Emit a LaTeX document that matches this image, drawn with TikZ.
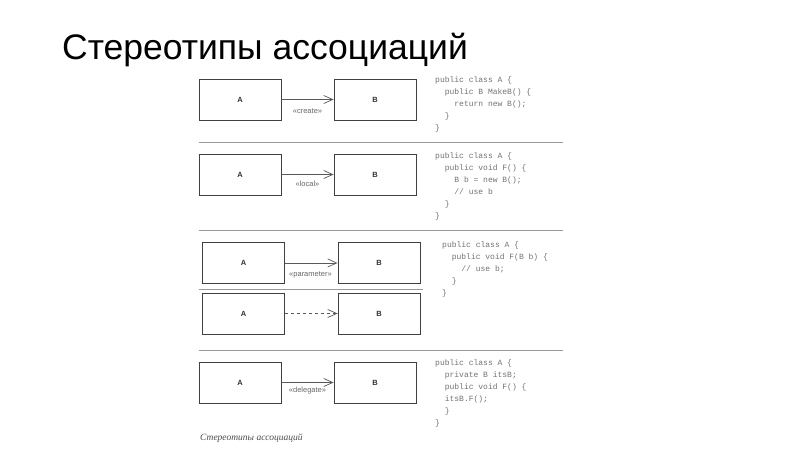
\documentclass[tikz,border=0pt]{standalone}
\usepackage{fontspec}
\setmainfont{Liberation Sans}
\setmonofont{Liberation Mono}
\newfontfamily\capserif{Liberation Serif}
\usetikzlibrary{arrows.meta,positioning}

\newcommand{\codeind}{\phantom{xx}}

\begin{document}
\begin{tikzpicture}[x=1pt, y=-1pt,
    clsbox/.style={rectangle, draw=black!75, line width=0.8pt, minimum width=82pt, minimum height=41pt, inner sep=0pt, font=\fontsize{7.5}{8}\selectfont\bfseries, text=black!80},
    arr/.style={-{Straight Barb[length=9pt,width=8pt]}, line width=0.7pt, draw=black!65},
    stereo/.style={font=\fontsize{7.5}{8}\selectfont, text=black!60, inner sep=0pt},
    code/.style={anchor=north west, align=left, inner sep=0pt, font=\ttfamily\fontsize{8}{12}\selectfont, text=black!55},
    sep/.style={draw=black!40, line width=0.8pt}
]
\useasboundingbox[fill=white] (0,0) rectangle (800,450);

% Title
\node[anchor=base west, inner sep=0pt, font=\fontsize{35.5}{38}\selectfont] (title) at (62,59) {Стереотипы ассоциаций};

% Row 1: create
\node[clsbox] (a1) at (240,99.5) {A};
\node[clsbox] (b1) at (375,99.5) {B};
\draw[arr] (a1) -- (b1);
\node[stereo] (s1) at (307.5,111.5) {«create»};
\node[code] (c1) at (435,76.5) {public class A \{\\
\codeind public B MakeB() \{\\
\codeind\codeind return new B();\\
\codeind \}\\
\}};

% Row 2: local
\node[clsbox] (a2) at (240,174.5) {A};
\node[clsbox] (b2) at (375,174.5) {B};
\draw[arr] (a2) -- (b2);
\node[stereo] (s2) at (307.5,184) {«local»};
\node[code] (c2) at (435,152.5) {public class A \{\\
\codeind public void F() \{\\
\codeind\codeind B b = new B();\\
\codeind\codeind // use b\\
\codeind \}\\
\}};

% Row 3: parameter
\node[clsbox] (a3) at (243.5,263) {A};
\node[clsbox] (b3) at (379,263) {B};
\draw[arr] (a3) -- (b3);
\node[stereo] (s3) at (310.5,275) {«parameter»};
\node[clsbox] (a4) at (243.5,313.5) {A};
\node[clsbox] (b4) at (379,313.5) {B};
\draw[arr, dashed] (a4) -- (b4);
\node[code] (c3) at (442,241.5) {public class A \{\\
\codeind public void F(B b) \{\\
\codeind\codeind // use b;\\
\codeind \}\\
\}};

% Row 4: delegate
\node[clsbox] (a5) at (240,382.5) {A};
\node[clsbox] (b5) at (375,382.5) {B};
\draw[arr] (a5) -- (b5);
\node[stereo] (s5) at (307.5,391) {«delegate»};
\node[code] (c5) at (435,359.5) {public class A \{\\
\codeind private B itsB;\\
\codeind public void F() \{\\
\codeind itsB.F();\\
\codeind \}\\
\}};

% Separators
\draw[sep] (199,142) -- (563,142);
\draw[sep] (199,230) -- (563,230);
\draw[sep] (199,289) -- (423,289);
\draw[sep] (199,350) -- (563,350);

% Caption
\node[anchor=base west, inner sep=0pt, font=\capserif\itshape\fontsize{9.5}{11}\selectfont, text=black!70] (cap) at (200,440) {Стереотипы ассоциаций};
\end{tikzpicture}
\end{document}
